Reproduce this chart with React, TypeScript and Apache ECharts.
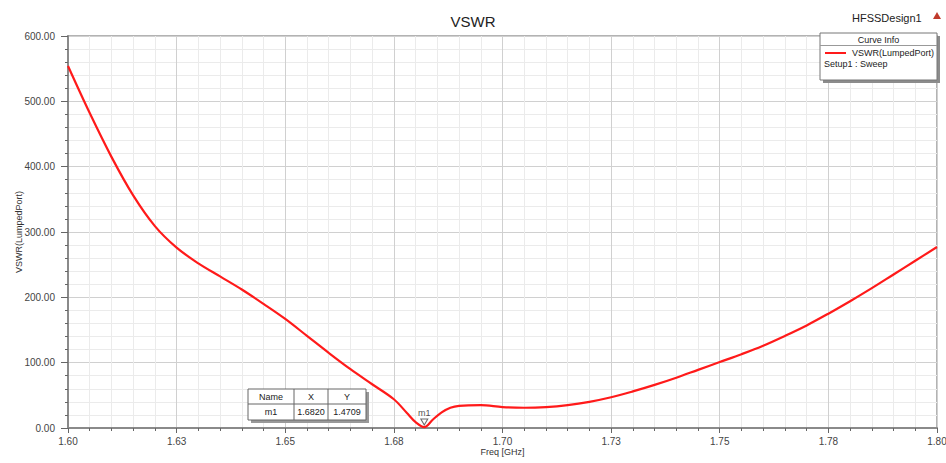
import React, { useEffect, useRef } from "react";
import * as echarts from "echarts";

const freqGHz = [
  1.6, 1.605, 1.61, 1.615, 1.62, 1.625, 1.63, 1.635, 1.64, 1.645, 1.65, 1.655, 1.66, 1.665, 1.67,
  1.675, 1.678, 1.68, 1.682, 1.684, 1.686, 1.688, 1.69, 1.695, 1.7, 1.705, 1.71, 1.715, 1.72,
  1.725, 1.73, 1.735, 1.74, 1.745, 1.75, 1.755, 1.76, 1.765, 1.77, 1.775, 1.78, 1.785, 1.79,
  1.795, 1.8,
];
const vswrValues = [
  554, 482, 415, 356, 309, 276, 252, 232, 212, 190, 167, 141, 115, 90, 67,
  44, 23, 9, 1.4709, 13, 24, 31, 34, 35, 32, 31, 32, 35, 40,
  47, 56, 66, 77, 89, 101, 113, 126, 141, 157, 175, 194, 214, 235,
  256, 277,
];
const xTickLabels = ["1.60", "1.63", "1.65", "1.68", "1.70", "1.73", "1.75", "1.78", "1.80"];
const markerName = "m1";
const markerX = 1.682;
const markerY = 1.4709;
const markerXText = "1.6820";
const markerYText = "1.4709";
const chartTitle = "VSWR";
const designName = "HFSSDesign1";
const curveName = "VSWR(LumpedPort)";
const setupName = "Setup1 : Sweep";

const FONT = "'Liberation Sans', Arial, sans-serif";

export default function App() {
  const ref = useRef<HTMLDivElement>(null);
  useEffect(() => {
    if (!ref.current) return;
    const chart = echarts.init(ref.current, null, { renderer: "svg" });
    const data = freqGHz.map((f, i) => [f, vswrValues[i]]);
    const txt = (text: string, x: number, y: number, align: string = "left") => ({
      type: "text",
      x,
      y,
      z: 102,
      style: { text, fontSize: 9, fill: "#222", align, verticalAlign: "middle", fontFamily: FONT },
    });
    const option: any = {
      animation: false,
      backgroundColor: "#ffffff",
      textStyle: { fontFamily: FONT },
      title: {
        text: chartTitle,
        left: "center",
        top: 9,
        textStyle: { fontSize: 15, fontWeight: "normal", color: "#222", fontFamily: FONT },
      },
      grid: {
        left: 68,
        right: 9,
        top: 36,
        bottom: 35,
        outerBoundsMode: "none",
        containLabel: false,
        show: true,
        borderColor: "#9a9a9a",
        borderWidth: 1.5,
      },
      xAxis: {
        type: "value",
        min: 1.6,
        max: 1.8,
        interval: 0.025,
        name: "Freq [GHz]",
        nameLocation: "middle",
        nameGap: 19,
        nameMoveOverlap: false,
        nameTextStyle: { fontSize: 9, color: "#333", fontFamily: FONT },
        axisLine: { show: true, lineStyle: { color: "#8a8a8a", width: 2 } },
        axisTick: { show: true, length: 5, lineStyle: { color: "#666" } },
        minorTick: { show: true, splitNumber: 5, length: 3, lineStyle: { color: "#666" } },
        splitLine: { show: true, lineStyle: { color: "#d0d0d0", width: 1 } },
        minorSplitLine: { show: true, lineStyle: { color: "#ebebeb", width: 1 } },
        axisLabel: {
          fontSize: 10,
          color: "#444",
          margin: 8,
          formatter: (v: number) => xTickLabels[Math.round((v - 1.6) / 0.025)] ?? "",
        },
      },
      yAxis: {
        type: "value",
        min: 0,
        max: 600,
        interval: 100,
        name: "VSWR(LumpedPort)",
        nameLocation: "middle",
        nameGap: 45,
        nameMoveOverlap: false,
        nameTextStyle: { fontSize: 9, color: "#333", fontFamily: FONT },
        axisLine: { show: true, lineStyle: { color: "#8a8a8a", width: 2 } },
        axisTick: { show: true, length: 7, lineStyle: { color: "#666" } },
        minorTick: { show: true, splitNumber: 5, length: 3, lineStyle: { color: "#666" } },
        splitLine: { show: true, lineStyle: { color: "#d0d0d0", width: 1 } },
        minorSplitLine: { show: true, lineStyle: { color: "#ebebeb", width: 1 } },
        axisLabel: {
          fontSize: 10,
          color: "#444",
          margin: 13,
          formatter: (v: number) => v.toFixed(2),
        },
      },
      series: [
        {
          type: "line",
          name: curveName,
          data,
          smooth: 0.35,
          showSymbol: false,
          lineStyle: { color: "#ff1a1a", width: 2.2 },
          z: 3,
        },
        {
          type: "scatter",
          data: [[markerX, markerY]],
          symbol: "triangle",
          symbolRotate: 180,
          symbolSize: [7, 6],
          symbolOffset: [0, -5],
          itemStyle: { color: "rgba(255,255,255,0)", borderColor: "#444", borderWidth: 1 },
          label: {
            show: true,
            position: "top",
            distance: 1,
            formatter: markerName,
            fontSize: 9,
            color: "#222",
            fontFamily: FONT,
          },
          z: 4,
        },
      ],
      graphic: [
        {
          type: "text",
          left: 852,
          top: 12,
          style: { text: designName, fontSize: 11, fill: "#222", fontFamily: FONT },
        },
        {
          type: "polygon",
          shape: { points: [[937, 12], [933, 19], [941, 19]] },
          style: { fill: "#c0392b" },
        },
        // Curve info box
        {
          type: "group",
          x: 820,
          y: 33,
          z: 100,
          children: [
            { type: "rect", z: 100, shape: { x: 3, y: 3, width: 117, height: 47 }, style: { fill: "#8c8c8c" } },
            { type: "rect", z: 101, shape: { x: 0, y: 0, width: 117, height: 47 }, style: { fill: "#ffffff", stroke: "#777", lineWidth: 1 } },
            txt("Curve Info", 58.5, 6.5, "center"),
            { type: "line", z: 102, shape: { x1: 0, y1: 12.5, x2: 117, y2: 12.5 }, style: { stroke: "#999", lineWidth: 1 } },
            { type: "line", z: 102, shape: { x1: 5, y1: 20, x2: 26, y2: 20 }, style: { stroke: "#ff1a1a", lineWidth: 2 } },
            txt(curveName, 32, 20),
            txt(setupName, 4, 31),
          ],
        },
        // Marker table
        {
          type: "group",
          x: 248,
          y: 389,
          z: 100,
          children: [
            { type: "rect", z: 100, shape: { x: 3, y: 3, width: 118, height: 31 }, style: { fill: "#999" } },
            { type: "rect", z: 101, shape: { x: 0, y: 0, width: 118, height: 31 }, style: { fill: "#ffffff", stroke: "#666", lineWidth: 1 } },
            { type: "line", z: 102, shape: { x1: 0, y1: 15, x2: 118, y2: 15 }, style: { stroke: "#666", lineWidth: 1 } },
            { type: "line", z: 102, shape: { x1: 46, y1: 0, x2: 46, y2: 31 }, style: { stroke: "#666", lineWidth: 1 } },
            { type: "line", z: 102, shape: { x1: 80, y1: 0, x2: 80, y2: 31 }, style: { stroke: "#666", lineWidth: 1 } },
            txt("Name", 23, 8, "center"),
            txt("X", 63, 8, "center"),
            txt("Y", 99, 8, "center"),
            txt(markerName, 23, 23, "center"),
            txt(markerXText, 63, 23, "center"),
            txt(markerYText, 99, 23, "center"),
          ],
        },
      ],
    };
    chart.setOption(option);
    return () => chart.dispose();
  }, []);
  return (
    <div
      ref={ref}
      style={{ position: "fixed", left: 0, top: 0, width: 946, height: 463, background: "#fff" }}
    />
  );
}
